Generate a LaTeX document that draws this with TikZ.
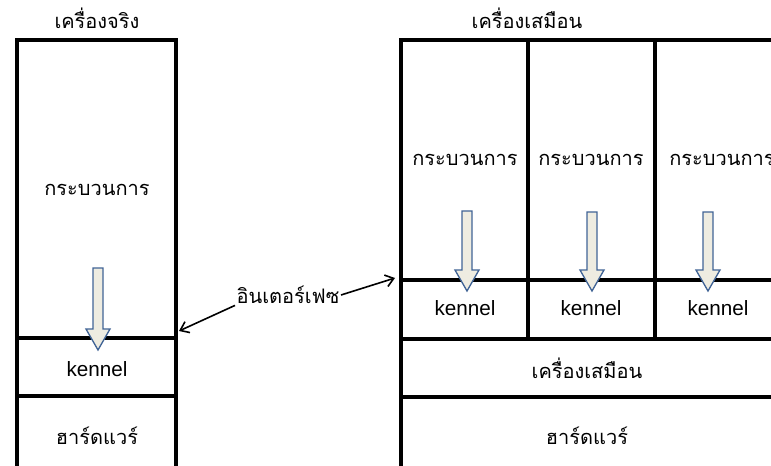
\documentclass[tikz,border=0pt]{standalone}
\usepackage{fontspec}
\setmainfont{Liberation Sans}
\newfontfamily\thai[Script=Thai]{Loma}
\usetikzlibrary{arrows.meta}
\definecolor{callfill}{RGB}{238,236,225}
\definecolor{calledge}{RGB}{65,100,150}

\tikzset{
  wall/.style={line width=3.2pt},
  th/.style={font=\thai\fontsize{15}{17}\selectfont},
  lat/.style={font=\fontsize{15.5}{17}\selectfont},
  calldown/.style={fill=callfill,draw=calledge,line width=1pt},
  ptr/.style={-{Straight Barb[length=6pt,width=9pt]},line width=1.2pt}
}

\begin{document}
\begin{tikzpicture}[x=0.75pt,y=-0.75pt]
  \useasboundingbox (0,0) rectangle (771,466);
  \clip (0,0) rectangle (771,466);

  % real machine
  \draw[wall] (17,480) -- (17,40) -- (176,40) -- (176,480);
  \draw[wall] (17,338) -- (176,338) (17,396) -- (176,396);

  % virtual machine
  \draw[wall] (401,480) -- (401,40) -- (782,40) -- (782,480);
  \draw[wall] (528,40) -- (528,339) (655,40) -- (655,339);
  \draw[wall] (401,280) -- (782,280) (401,339) -- (782,339) (401,397) -- (782,397);

  % system calls
  \foreach \x/\ytop/\ytip in {98/268/350,467/211/291,592/212/291,708/212/291}
    \draw[calldown] (\x-5,\ytop) -- (\x+5,\ytop) -- (\x+5,\ytip-21) -- (\x+12,\ytip-21)
      -- (\x,\ytip) -- (\x-12,\ytip-21) -- (\x-5,\ytip-21) -- cycle;

  \node[th] (rmtitle) at (97,18) {เครื่องจริง};
  \node[th] (vmtitle) at (527,18) {เครื่องเสมือน};

  \node[th] (rmproc) at (97,190) {กระบวนการ};
  \node[lat] (rmkern) at (97,369) {kennel};
  \node[th] (rmhw) at (97,436) {ฮาร์ดแวร์};

  \foreach \x/\n in {465/1,591/2,722/3}
    \node[th] (vmproc\n) at (\x,160) {กระบวนการ};
  \foreach \x/\n in {465/1,591/2,718/3}
    \node[lat] (vmkern\n) at (\x,308) {kennel};
  \node[th] (vmemu) at (587,368) {เครื่องเสมือน};
  \node[th] (vmhw) at (587,436) {ฮาร์ดแวร์};

  \node[th,inner sep=1pt] (iface) at (288,295) {อินเตอร์เฟซ};
  \coordinate (rmport) at (179,331);
  \coordinate (vmport) at (395,278);
  \draw[ptr] (iface.south west) -- (rmport);
  \draw[ptr] (iface.east) -- (vmport);
\end{tikzpicture}
\end{document}
